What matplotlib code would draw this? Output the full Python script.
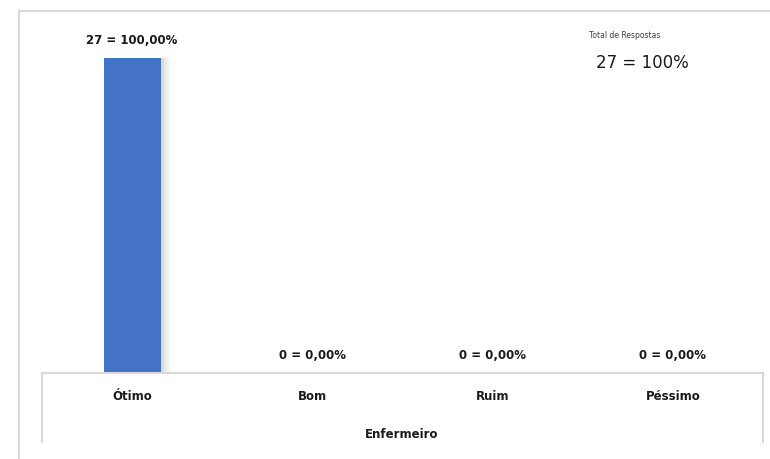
import matplotlib
matplotlib.use("Agg")
import matplotlib.pyplot as plt
from matplotlib.lines import Line2D

# dados
categorias = ["Ótimo", "Bom", "Ruim", "Péssimo"]
respostas = [27, 0, 0, 0]
percentuais = ["100,00%", "0,00%", "0,00%", "0,00%"]
titulo_eixo = "Enfermeiro"
total_titulo = "Total de Respostas"
total_texto = "27 = 100%"

W, H = 770, 459
fig = plt.figure(figsize=(W / 100, H / 100), dpi=100)

def fx(px):
    return px / W

def fy(py):
    return 1 - py / H

# eixo principal
ax = fig.add_axes([fx(42), fy(372), fx(763) - fx(42), fy(11) - fy(372)])
x = list(range(len(categorias)))

# sombra da barra
for dx, a in [(0.05, 0.08), (0.035, 0.10), (0.02, 0.14)]:
    ax.bar([v + dx for v in x], respostas, width=0.315, color="#808080",
           alpha=a, linewidth=0, zorder=1)
ax.bar(x, respostas, width=0.315, color="#4472C4", linewidth=0, zorder=2)

ax.set_xlim(-0.5, len(categorias) - 0.5)
ax.set_ylim(0, 27 * 361 / 314)
ax.axis("off")

for xi, v, p in zip(x, respostas, percentuais):
    ax.annotate(f"{v} = {p}", (xi, v), xytext=(0, 8 if v > 0 else 7.5),
                textcoords="offset points", ha="center", va="bottom",
                fontsize=8.5, fontweight="bold", color="#1a1a1a")

# tabela de categorias
grey = "#d9d9d9"
fig.add_artist(Line2D([fx(42), fx(763)], [fy(373), fy(373)], color=grey, lw=1.5))
fig.add_artist(Line2D([fx(42), fx(42)], [fy(373), fy(442)], color=grey, lw=1.5))
fig.add_artist(Line2D([fx(763), fx(763)], [fy(373), fy(442)], color=grey, lw=1.5))

for xi, c in zip(x, categorias):
    xpix = 42 + (xi + 0.5) * (763 - 42) / len(categorias)
    fig.text(fx(xpix), fy(396), c, ha="center", va="center",
             fontsize=8.5, fontweight="bold", color="#1a1a1a")
fig.text(fx(402), fy(435), titulo_eixo, ha="center", va="center",
         fontsize=8.5, fontweight="bold", color="#1a1a1a")

# moldura externa
fig.add_artist(Line2D([fx(19), fx(19)], [fy(11), 0], color=grey, lw=1.5))
fig.add_artist(Line2D([fx(19), 1], [fy(11), fy(11)], color=grey, lw=1.5))

# total
fig.text(fx(625), fy(35), total_titulo, ha="center", va="center",
         fontsize=5.5, color="#404040")
fig.text(fx(642), fy(63), total_texto, ha="center", va="center",
         fontsize=12, color="#1a1a1a")

fig.savefig("out.png", dpi=100)
